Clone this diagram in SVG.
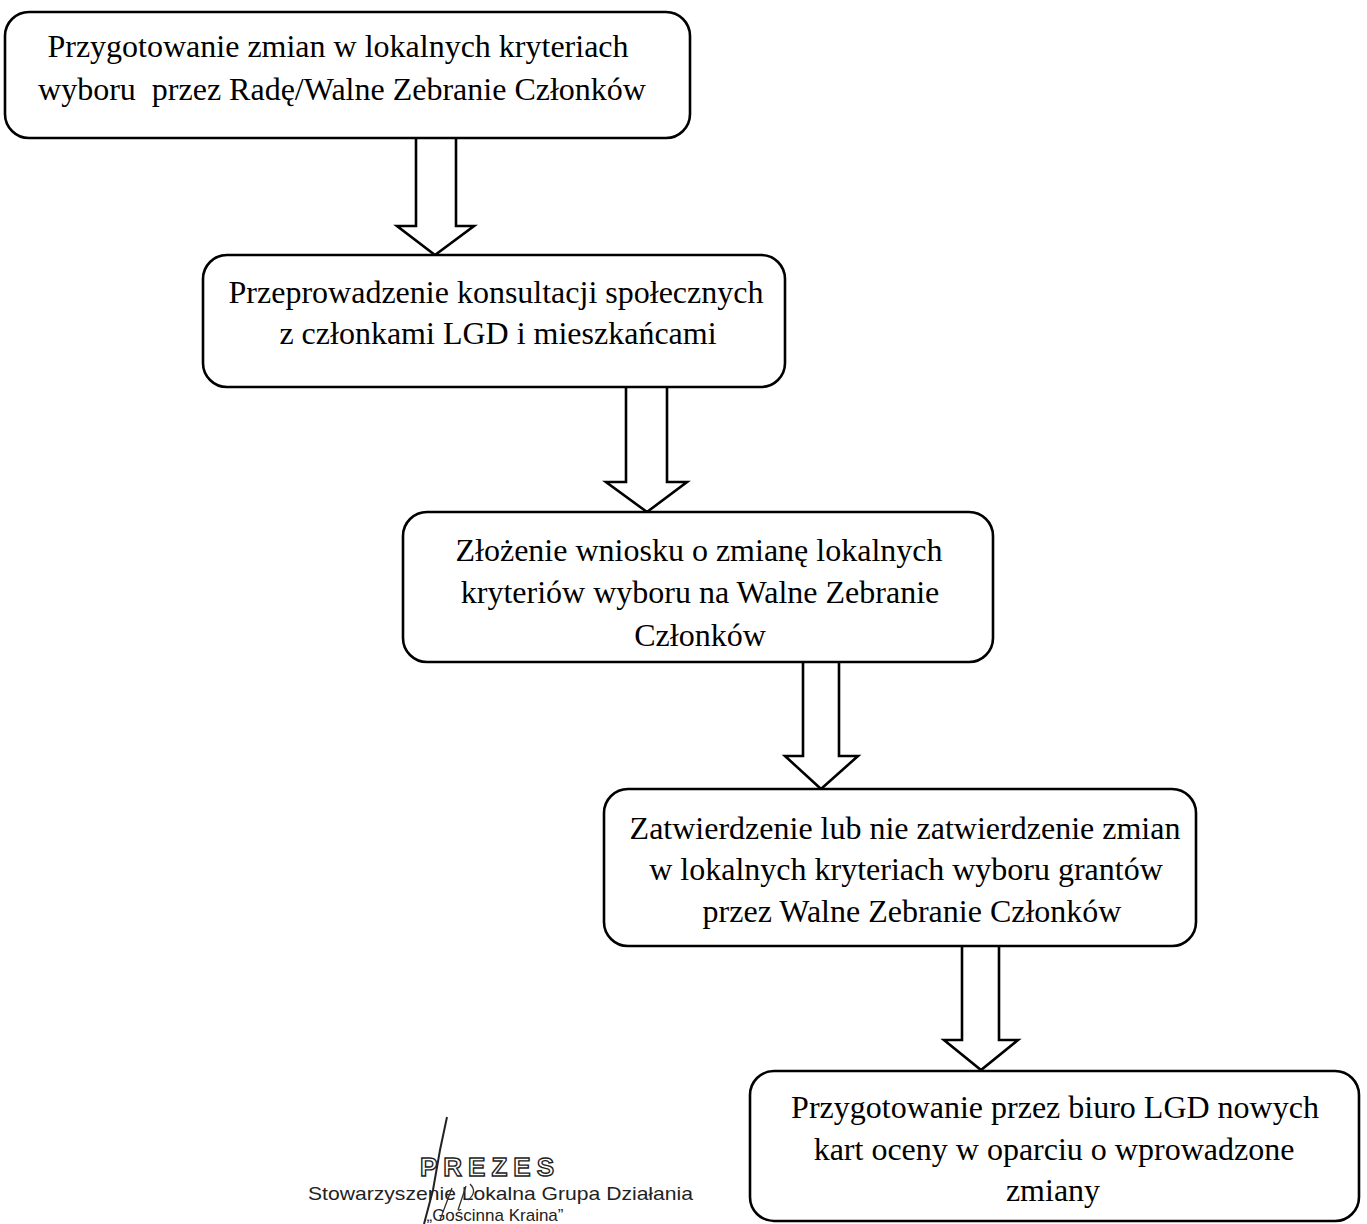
<svg xmlns="http://www.w3.org/2000/svg" width="1367" height="1224" viewBox="0 0 1367 1224">
<style>
.box{fill:#fff;stroke:#000;stroke-width:2.6}
.arr{fill:#fff;stroke:#000;stroke-width:2.6;stroke-linejoin:miter}
.t{font-family:"Liberation Serif","Times New Roman",serif;font-size:32px;fill:#000;text-anchor:middle}
.st{font-family:"Liberation Sans",Arial,sans-serif}
</style>
<rect width="1367" height="1224" fill="#fff"/>
<g id="connectors">
<path class="arr" d="M416,138 V226 H397 L435,255 L474,226 H456 V138"/>
<path class="arr" d="M626,387 V482 H606 L647,512 L687,482 H667 V387"/>
<path class="arr" d="M803,662 V756 H785 L821,789 L858,756 H839 V662"/>
<path class="arr" d="M962,946 V1040 H944 L981,1070 L1018,1040 H999 V946"/>
</g>
<g id="node1">
<rect class="box" x="5" y="12" width="685" height="126" rx="24"/>
<text class="t" x="338" y="57">Przygotowanie zmian w lokalnych kryteriach</text>
<text class="t" x="342" y="100" style="white-space:pre" xml:space="preserve">wyboru  przez Radę/Walne Zebranie Członków</text>
</g>
<g id="node2">
<rect class="box" x="203" y="255" width="582" height="132" rx="24"/>
<text class="t" x="496" y="303">Przeprowadzenie konsultacji społecznych</text>
<text class="t" x="498" y="344">z członkami LGD i mieszkańcami</text>
</g>
<g id="node3">
<rect class="box" x="403" y="512" width="590" height="150" rx="24"/>
<text class="t" x="699" y="561">Złożenie wniosku o zmianę lokalnych</text>
<text class="t" x="700" y="603">kryteriów wyboru na Walne Zebranie</text>
<text class="t" x="700" y="646">Członków</text>
</g>
<g id="node4">
<rect class="box" x="604" y="789" width="592" height="157" rx="24"/>
<text class="t" x="905" y="839">Zatwierdzenie lub nie zatwierdzenie zmian</text>
<text class="t" x="906" y="880">w lokalnych kryteriach wyboru grantów</text>
<text class="t" x="912" y="922">przez Walne Zebranie Członków</text>
</g>
<g id="node5">
<rect class="box" x="750" y="1071" width="609" height="150" rx="24"/>
<text class="t" x="1055" y="1118">Przygotowanie przez biuro LGD nowych</text>
<text class="t" x="1054" y="1160">kart oceny w oparciu o wprowadzone</text>
<text class="t" x="1053" y="1201">zmiany</text>
</g>
<g id="stamp">
<text class="st" x="490" y="1176" text-anchor="middle" font-size="26" font-weight="bold" letter-spacing="6" style="fill:#fff;stroke:#222;stroke-width:1.4">PREZES</text>
<text class="st" x="308" y="1200" font-size="19" textLength="385" lengthAdjust="spacingAndGlyphs" style="fill:#222">Stowarzyszenie Lokalna Grupa Działania</text>
<text class="st" x="495" y="1221" text-anchor="middle" font-size="17" style="fill:#222">„Gościnna Kraina”</text>
<path d="M447,1117 L440,1150 L433,1190 L424,1224" fill="none" stroke="#222" stroke-width="2"/>
<path d="M452,1188 L440,1220 M466,1186 L458,1210 M470,1184 Q478,1192 468,1200" fill="none" stroke="#333" stroke-width="1.3"/>
</g>
</svg>
